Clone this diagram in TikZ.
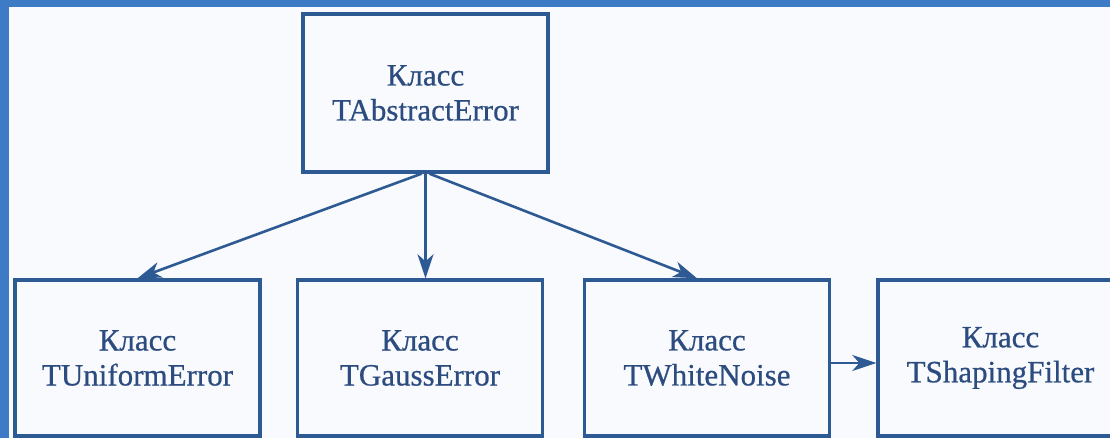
\documentclass[tikz,border=0pt]{standalone}
\usepackage{fontspec}
\newfontfamily\labelfont[FakeBold=0.6]{Liberation Serif}
\usetikzlibrary{arrows.meta}
\definecolor{frameblue}{HTML}{3D7BC7}
\definecolor{paper}{HTML}{F8FAFD}
\definecolor{ink}{HTML}{2E5A94}
\definecolor{textink}{HTML}{2C4C80}
\begin{document}
\begin{tikzpicture}[x=1pt,y=-1pt,
  classbox/.style={draw=ink, line width=3.4pt, fill=paper,
    minimum width=245pt, minimum height=156pt, inner sep=0pt,
    align=center, text=textink,
    font=\labelfont\fontsize{31pt}{35pt}\selectfont},
  link/.style={draw=ink, line width=2.6pt,
    -{Stealth[length=24pt,width=16pt,inset=7pt]}}]
  % page, frame strips and clipping to the visible area
  \useasboundingbox (0,0) rectangle (1110,438);
  \clip (0,0) rectangle (1110,438);
  \fill[frameblue] (0,0) rectangle (1110,438);
  \fill[paper] (9,7) rectangle (1110,438);

  % class boxes
  \node[classbox, minimum height=158pt] (abs) at (425.5,93) {Класс\\TAbstractError};
  \node[classbox] (uni)   at (137.5,358) {Класс\\TUniformError};
  \node[classbox] (gauss) at (420,358)   {Класс\\TGaussError};
  \node[classbox] (white) at (707,358)   {Класс\\TWhiteNoise};
  \node[classbox] (shape) at (1000.5,358) {Класс\\TShapingFilter};

  % inheritance links
  \draw[link] ([xshift=-4pt]abs.south) -- (uni.north);
  \draw[link] (abs.south) -- (abs.south |- gauss.north);
  \draw[link] ([xshift=4pt]abs.south) -- ([xshift=-10pt]white.north);
  \draw[link] ([yshift=-5pt]white.east) -- ([yshift=-5pt]shape.west);
\end{tikzpicture}
\end{document}
